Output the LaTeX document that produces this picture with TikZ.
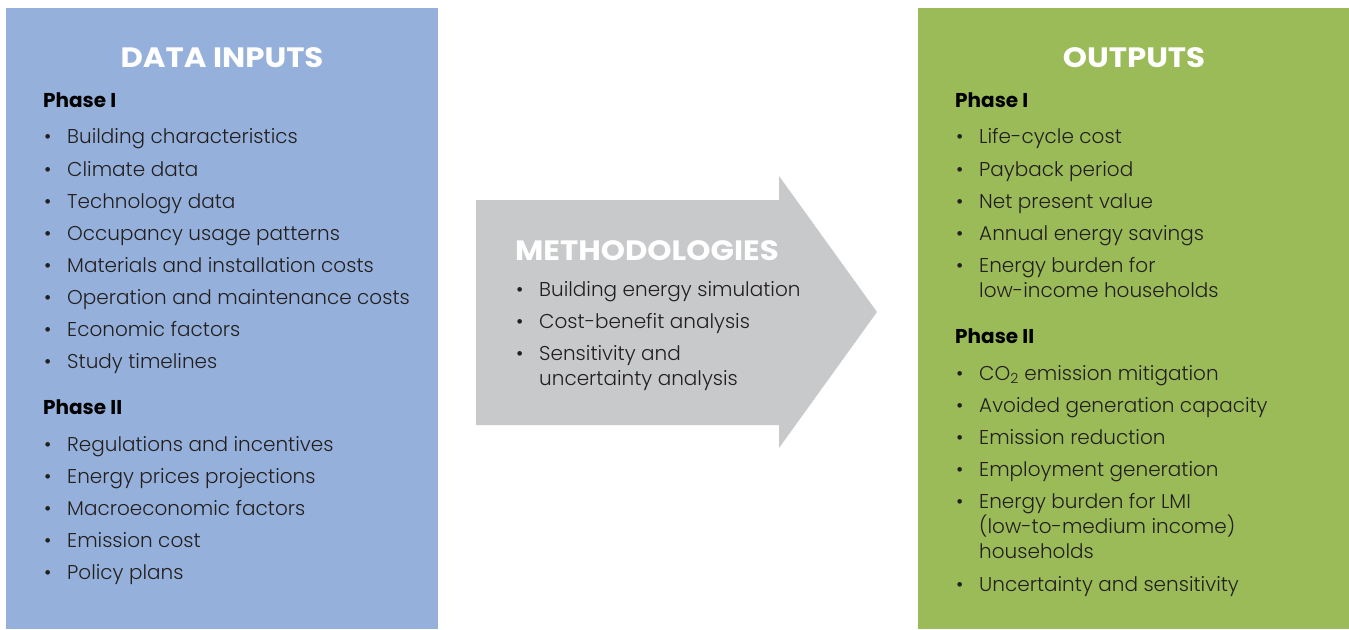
\documentclass[tikz,border=0pt]{standalone}
\usepackage{fontspec}
\IfFontExistsTF{Poppins Light}{\setmainfont{Poppins Light}[BoldFont=Poppins Bold]}{\setmainfont{Poppins}}
\newfontfamily\headfont{Poppins}[FakeStretch=1.1]
\usepackage{tikz}
\usetikzlibrary{positioning}

\definecolor{inblue}{HTML}{95B1DB}
\definecolor{outgreen}{HTML}{9BBB59}
\definecolor{methgray}{HTML}{C8C9CB}
\definecolor{ink}{HTML}{231F20}
\newcommand{\blt}{\makebox[23pt][l]{\textbullet}}

\tikzset{
	panel/.style={draw=none, inner sep=0, minimum width=432pt, minimum height=621pt},
	headtxt/.style={anchor=base, inner sep=0, text=white, font=\headfont\bfseries\fontsize{28}{28}\selectfont},
	phasetxt/.style={anchor=base west, inner sep=0, text=black, font=\bfseries\fontsize{20}{20}\selectfont},
	entry/.style={anchor=base west, inner sep=0, text=ink, font=\fontsize{20}{20}\selectfont},
}

\begin{document}
\begin{tikzpicture}[x=1pt,y=-1pt]
			\useasboundingbox (0,0) rectangle (1349,629);
			% the two panels and the arrow between them
			\node at (222,318.5) (IN) [panel, fill=inblue] {};
			\node at (1133.5,318.5) (OUT) [panel, fill=outgreen, minimum width=431pt] {};
			\fill[methgray] (476,200) -- (779,200) -- (779,176) -- (877,312) -- (779,448) -- (779,425) -- (476,425) -- cycle;
			% data inputs
			\node at (222,67) (INhead) [headtxt] {DATA INPUTS};
			\node at (43,107) (INph1) [phasetxt] {Phase I};
			\node at (44,143) (in1) [entry] {\blt Building characteristics};
			\node at (44,176) (in2) [entry] {\blt Climate data};
			\node at (44,208) (in3) [entry] {\blt Technology data};
			\node at (44,240) (in4) [entry] {\blt Occupancy usage patterns};
			\node at (44,272) (in5) [entry] {\blt Materials and installation costs};
			\node at (44,304) (in6) [entry] {\blt Operation and maintenance costs};
			\node at (44,336) (in7) [entry] {\blt Economic factors};
			\node at (44,368) (in8) [entry] {\blt Study timelines};
			\node at (43,414) (INph2) [phasetxt] {Phase II};
			\node at (44,451) (in9) [entry] {\blt Regulations and incentives};
			\node at (44,483) (in10) [entry] {\blt Energy prices projections};
			\node at (44,515) (in11) [entry] {\blt Macroeconomic factors};
			\node at (44,547) (in12) [entry] {\blt Emission cost};
			\node at (44,579) (in13) [entry] {\blt Policy plans};
			% methodologies, inside the arrow
			\node at (515,260) (MEhead) [headtxt, anchor=base west] {METHODOLOGIES};
			\node at (516,296) (me1) [entry] {\blt Building energy simulation};
			\node at (516,328) (me2) [entry] {\blt Cost-benefit analysis};
			\node at (516,360) (me3) [entry] {\blt Sensitivity and};
			\node at (539,385) (me3b) [entry] {uncertainty analysis};
			% outputs
			\node at (1134,67) (OUThead) [headtxt] {OUTPUTS};
			\node at (955,107) (OUTph1) [phasetxt] {Phase I};
			\node at (956,143) (out1) [entry] {\blt Life-cycle cost};
			\node at (956,176) (out2) [entry] {\blt Payback period};
			\node at (956,208) (out3) [entry] {\blt Net present value};
			\node at (956,240) (out4) [entry] {\blt Annual energy savings};
			\node at (956,272) (out5) [entry] {\blt Energy burden for};
			\node at (979,297) (out5b) [entry] {low-income households};
			\node at (955,343) (OUTph2) [phasetxt] {Phase II};
			\node at (956,380) (out6) [entry] {\blt CO\textsubscript{2} emission mitigation};
			\node at (956,412) (out7) [entry] {\blt Avoided generation capacity};
			\node at (956,444) (out8) [entry] {\blt Emission reduction};
			\node at (956,476) (out9) [entry] {\blt Employment generation};
			\node at (956,508) (out10) [entry] {\blt Energy burden for LMI};
			\node at (979,533) (out10b) [entry] {(low-to-medium income)};
			\node at (979,558) (out10c) [entry] {households};
			\node at (956,591) (out11) [entry] {\blt Uncertainty and sensitivity};
\end{tikzpicture}
\end{document}
